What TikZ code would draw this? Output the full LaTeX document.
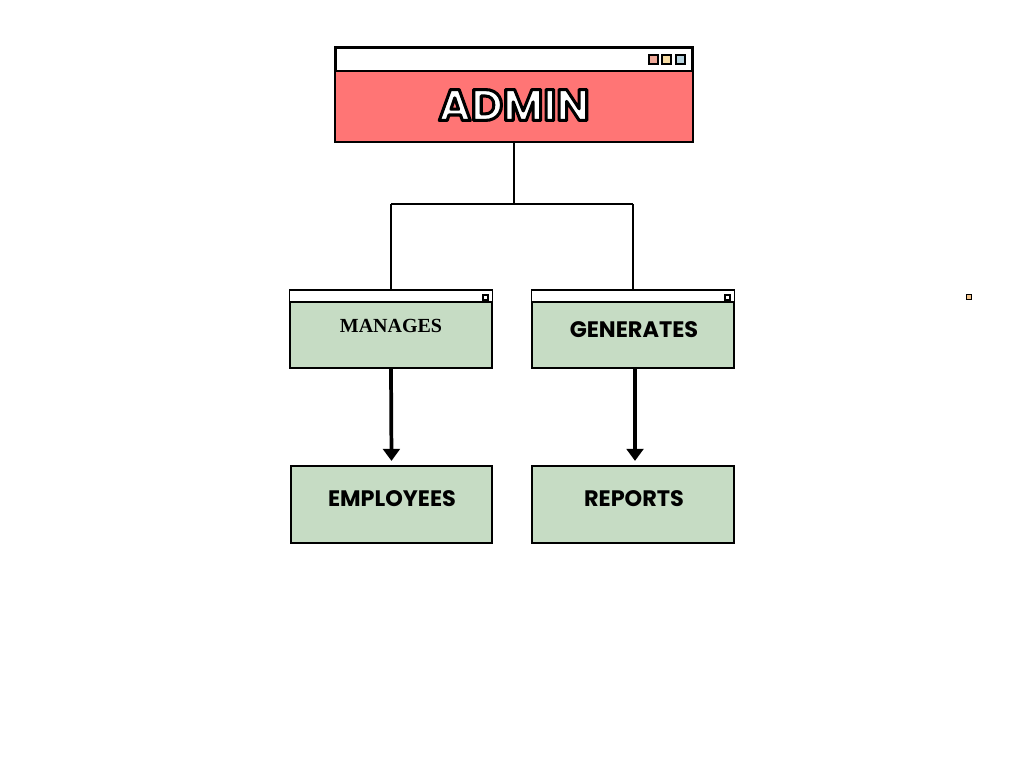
\documentclass[tikz,border=0pt]{standalone}
\usepackage{fontspec}
\setmainfont{Poppins}
\newfontfamily\headfont{Poppins}[UprightFont=* Bold]
\newfontfamily\serifbold{Liberation Serif}[UprightFont=* Bold]
\usetikzlibrary{calc,arrows.meta}
\definecolor{adminred}{HTML}{FF7575}
\definecolor{boxgreen}{HTML}{C6DCC4}
\definecolor{sqsalmon}{HTML}{EFA898}
\definecolor{sqyellow}{HTML}{F7DCA4}
\definecolor{sqblue}{HTML}{B7D3DF}
\definecolor{sqorange}{HTML}{F3C58E}
\newcommand{\outlinedtext}[1]{\textcolor{white}{\special{pdf:literal direct 2 Tr 2.3 w 1 j 0 0 0 RG}#1\special{pdf:literal direct 0 Tr}}}
\tikzset{
  box/.style={draw=black, line width=1.4pt, fill=boxgreen, inner sep=0pt,
    minimum width=151pt, minimum height=58pt},
  titlebar/.style={draw=black, line width=1.2pt, fill=white},
  tiny/.style={draw=black, line width=1pt},
  link/.style={draw=black, line width=1.1pt},
  flow/.style={draw=black, line width=2.8pt, -{Triangle[length=9pt,width=12.5pt]}},
  lbl/.style={font=\headfont\fontsize{16.8}{19}\selectfont, text=black},
}
\begin{document}
\begin{tikzpicture}[x=0.75pt,y=-0.75pt]
\useasboundingbox (0,0) rectangle (1024,768);
% ADMIN window
\node[draw=black, line width=1.4pt, fill=white, inner sep=0pt,
  minimum width=267pt, minimum height=69.75pt] (admin) at (514,94.5) {};
\fill[adminred] ($(admin.north west)+(0,24)$) rectangle (admin.south east);
\draw[line width=1.4pt] ($(admin.north west)+(0,24)$) -- ($(admin.north east)+(0,24)$);
\draw[line width=1.4pt] (admin.north west) rectangle (admin.south east);
\draw[tiny, fill=sqsalmon] (649,55) rectangle (658,64);
\draw[tiny, fill=sqyellow] (662,55) rectangle (671,64);
\draw[tiny, fill=sqblue] (676,55) rectangle (685,64);
\node[font=\headfont\fontsize{33}{38}\selectfont] (admintext) at (514,105) {\outlinedtext{ADMIN}};
% middle boxes
\node[box] (manages) at (391,329.5) {};
\draw[titlebar] (manages.north west) rectangle ($(manages.north east)+(0,12)$);
\draw[tiny] (483,295) rectangle (488,300);
\node[font=\serifbold\fontsize{15}{17}\selectfont] at (391,326) {MANAGES};
\node[box] (generates) at (633,329.5) {};
\draw[titlebar] (generates.north west) rectangle ($(generates.north east)+(0,12)$);
\draw[tiny] (725,295) rectangle (730,300);
\node[lbl] at (634,330) {GENERATES};
% bottom boxes
\node[box] (employees) at (391.5,504.5) {};
\node[lbl] at (392,499) {EMPLOYEES};
\node[box] (reports) at (633,504.5) {};
\node[lbl] at (634,499) {REPORTS};
% tree connector
\coordinate (fork) at (514,204);
\draw[link] (admin.south) -- (fork);
\draw[link] (manages.north |- fork) -- (generates.north |- fork);
\draw[link] (manages.north |- fork) -- (manages.north);
\draw[link] (generates.north |- fork) -- (generates.north);
% arrows
\draw[flow] (manages.south) -- ($(employees.north)+(0,-4)$);
\draw[flow] ($(generates.south)+(2,0)$) -- ($(reports.north)+(2,-4)$);
% stray small square
\draw[line width=0.9pt, fill=sqorange] (966.5,294.5) rectangle (971.5,299.5);
\end{tikzpicture}
\end{document}
